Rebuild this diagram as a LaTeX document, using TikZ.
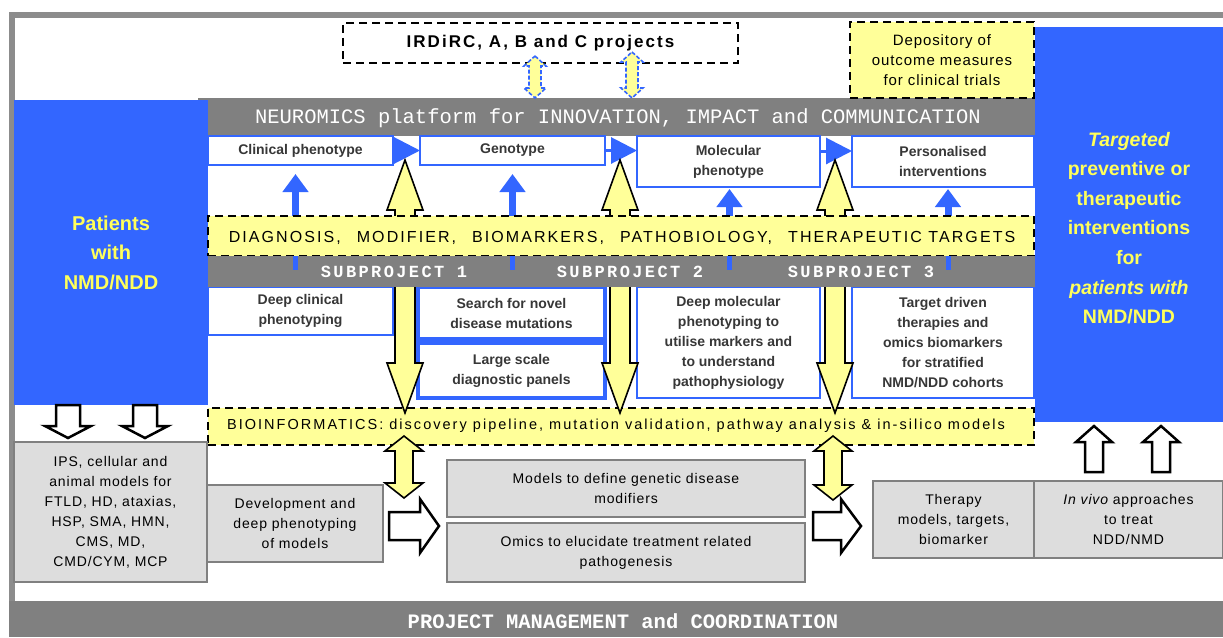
\documentclass[tikz,border=0pt]{standalone}
\usepackage{fontspec}
\setmainfont{Liberation Sans}
\setmonofont{Liberation Mono}
\newfontfamily\barfont{Liberation Mono}
\newfontfamily\spfont[LetterSpace=14]{Liberation Mono}
\newfontfamily\bandfont[LetterSpace=13]{Liberation Sans}
\newfontfamily\bioinfont[LetterSpace=14]{Liberation Sans}
\newfontfamily\lsfont[LetterSpace=6]{Liberation Sans}
\newfontfamily\topfont[LetterSpace=12]{Liberation Sans}
\usetikzlibrary{arrows.meta,calc}
\definecolor{nblue}{RGB}{51,102,255}
\definecolor{nyel}{RGB}{255,255,153}
\definecolor{ngray}{RGB}{128,128,128}
\definecolor{lgray}{RGB}{221,221,221}
\definecolor{tyel}{RGB}{255,255,90}
\definecolor{dtext}{RGB}{55,55,55}
% box by corners: name, style, x1, y1, x2, y2, text
\newcommand\bx[7]{\node[#2, anchor=north west, minimum width={(#5-#3)*1pt}, minimum height={(#6-#4)*1pt}] (#1) at (#3,#4) {#7};}
% vertical double arrow: cx, ytop, ybot, shaft, head width, head length, style
\newcommand\vdarrow[7]{\path[#7] (#1,#2) -- ({#1+#5/2},{#2+#6}) -- ({#1+#4/2},{#2+#6}) -- ({#1+#4/2},{#3-#6}) -- ({#1+#5/2},{#3-#6}) -- (#1,#3) -- ({#1-#5/2},{#3-#6}) -- ({#1-#4/2},{#3-#6}) -- ({#1-#4/2},{#2+#6}) -- ({#1-#5/2},{#2+#6}) -- cycle;}
% down arrow: cx, ytop, ytip
\newcommand\vdownarrow[7]{\path[#7] ({#1-#4/2},#2) -- ({#1+#4/2},#2) -- ({#1+#4/2},{#3-#6}) -- ({#1+#5/2},{#3-#6}) -- (#1,#3) -- ({#1-#5/2},{#3-#6}) -- ({#1-#4/2},{#3-#6}) -- cycle;}
% up arrow: cx, ytip, ybottom
\newcommand\vuparrow[7]{\path[#7] (#1,#2) -- ({#1+#5/2},{#2+#6}) -- ({#1+#4/2},{#2+#6}) -- ({#1+#4/2},#3) -- ({#1-#4/2},#3) -- ({#1-#4/2},{#2+#6}) -- ({#1-#5/2},{#2+#6}) -- cycle;}
% right arrow: cy, xleft, xtip, shaft, head width, head length, style
\newcommand\hrarrow[7]{\path[#7] (#2,{#1-#4/2}) -- ({#3-#6},{#1-#4/2}) -- ({#3-#6},{#1-#5/2}) -- (#3,#1) -- ({#3-#6},{#1+#5/2}) -- ({#3-#6},{#1+#4/2}) -- (#2,{#1+#4/2}) -- cycle;}
\tikzset{
  rowbox/.style={draw=nblue, line width=2.5pt, fill=white, inner sep=0pt, outer sep=0pt,
    font=\fontsize{14}{20}\selectfont\bfseries, text=dtext, align=center},
  graybox/.style={draw=gray, line width=1.5pt, fill=lgray, inner sep=0pt, outer sep=0pt,
    font=\lsfont\fontsize{14}{20}\selectfont, text=black, align=center},
  dashbox/.style={draw=black, line width=2.5pt, dash pattern=on 8pt off 5pt, inner sep=0pt, outer sep=0pt, align=center},
  graybar/.style={fill=ngray, draw=none, inner sep=0pt, outer sep=0pt, text=white},
  bluebox/.style={fill=nblue, draw=none, inner sep=0pt, outer sep=0pt, text=tyel, align=center,
    font=\fontsize{20}{29.5}\selectfont\bfseries},
  bigyel/.style={fill=nyel, draw=black, line width=1.6pt, line join=miter},
  smallyel/.style={fill=nyel, draw=nblue, line width=1.6pt, dash pattern=on 4pt off 2pt},
  hollow/.style={fill=white, draw=black, line width=2.5pt, line join=miter},
  bluearr/.style={draw=nblue, line width=7pt, -{Triangle[length=18pt,width=25pt]}},
  bluetri/.style={draw=nblue, line width=3pt, -{Triangle[length=26pt,width=26pt]}},
}
\begin{document}
\begin{tikzpicture}[x=1pt,y=-1pt]
\useasboundingbox (0,0) rectangle (1223,637);
\fill[white] (0,0) rectangle (1223,637);
% outer frame
\fill[gray!90] (10,12) rectangle (1223,18);
\fill[gray!90] (9,12) rectangle (15,602);
\bx{pm}{graybar}{9}{601}{1223}{637}{}
\node[text=white, font=\barfont\fontsize{20.5}{24}\selectfont\bfseries] (pmt) at (623,621) {PROJECT MANAGEMENT and COORDINATION};
% neuromics bar
\bx{neu}{graybar}{198}{98}{1035}{136}{}
\node[text=white, font=\barfont\fontsize{20.5}{24}\selectfont] (neut) at (618,118) {NEUROMICS platform for INNOVATION, IMPACT and COMMUNICATION};
% blue boxes
\bx{pat}{bluebox}{14}{100}{208}{405}{Patients\\with\\NMD/NDD}
\bx{tgt}{bluebox}{1035}{27}{1223}{422}{}
\node[text=tyel, align=center, font=\fontsize{19.5}{29.6}\selectfont\bfseries] (tgtt) at (1129,228)
  {\itshape Targeted\\preventive or\\therapeutic\\interventions\\for\\\itshape patients with\\NMD/NDD};
% top boxes
\bx{irc}{dashbox, fill=white, font=\topfont\fontsize{17}{20}\selectfont\bfseries}{343}{23}{738}{63}{IRDiRC, A, B and C projects}
\bx{dep}{dashbox, fill=nyel, font=\lsfont\fontsize{15}{20}\selectfont}{850}{22}{1034}{98}{Depository of\\outcome measures\\for clinical trials}
% row 1
\bx{clin}{rowbox}{208}{136}{393}{165}{Clinical phenotype}
\bx{geno}{rowbox}{420}{136}{605}{165}{Genotype}
\bx{molp}{rowbox}{637}{136}{820}{187}{Molecular\\phenotype}
\bx{pers}{rowbox}{852}{136}{1034}{187}{Personalised\\interventions}
% row 2
\bx{dcp}{rowbox}{208}{287}{393}{335}{Deep clinical\\phenotyping}
\bx{snm}{rowbox, line width=4pt}{418}{287}{605}{339}{Search for novel\\disease mutations}
\bx{lsd}{rowbox, line width=4pt}{418}{343}{605}{398}{Large scale\\diagnostic panels}
\bx{dmp}{rowbox}{637}{287}{820}{398}{Deep molecular\\phenotyping to\\utilise markers and\\to understand\\pathophysiology}
\bx{tdt}{rowbox}{852}{287}{1034}{398}{Target driven\\therapies and\\omics biomarkers\\for stratified\\NMD/NDD cohorts}
% bands
\bx{diag}{dashbox, fill=nyel}{208}{216}{1034}{256}{}
\bx{bio}{dashbox, fill=nyel}{208}{408}{1034}{445}{}
\node[font=\bioinfont\fontsize{14.5}{18}\selectfont] (biot) at (616,426) {BIOINFORMATICS: discovery pipeline, mutation validation, pathway analysis \& in-silico models};
% blue up arrows
\draw[bluearr, shorten >=9pt] (clin.south |- diag.north) ++(-5,0) coordinate (a1) -- (a1 |- clin.south);
\draw[bluearr, shorten >=9pt] (geno.south |- diag.north) ++(0,0) coordinate (a2) -- (a2 |- geno.south);
\draw[bluearr, shorten >=2pt] (molp.south |- diag.north) ++(1,0) coordinate (a3) -- (a3 |- molp.south);
\draw[bluearr, shorten >=2pt] (pers.south |- diag.north) ++(5,0) coordinate (a4) -- (a4 |- pers.south);
% blue triangles between row-1 boxes
\draw[bluetri] (clin.east) -- (geno.west);
\draw[bluetri] (geno.east) -- (geno.east -| molp.west);
\draw[bluetri] ($(molp.north east)+(0,15)$) coordinate (b3) -- (b3 -| pers.west);
% long yellow arrows
\vdarrow{405}{160}{413}{20}{36}{50}{bigyel}
\vdarrow{620}{160}{413}{20}{36}{50}{bigyel}
\vdarrow{835}{160}{413}{20}{36}{50}{bigyel}
% bands on top of arrows
\bx{diag2}{dashbox, fill=nyel}{208}{216}{1034}{256}{}
\node[font=\bandfont\fontsize{16}{20}\selectfont] (diagt) at (622,238) {DIAGNOSIS,\quad MODIFIER,\quad BIOMARKERS,\quad PATHOBIOLOGY,\quad THERAPEUTIC TARGETS};
\bx{sub}{graybar}{208}{256}{1035}{287}{}
\node[text=white, font=\spfont\fontsize{17}{20}\selectfont\bfseries] (sp1) at (394,272) {SUBPROJECT 1};
\node[text=white, font=\spfont\fontsize{17}{20}\selectfont\bfseries] (sp2) at (630,272) {SUBPROJECT 2};
\node[text=white, font=\spfont\fontsize{17}{20}\selectfont\bfseries] (sp3) at (861,272) {SUBPROJECT 3};
\foreach \c in {a1,a2,a3,a4}{\draw[nblue, line width=5pt] (\c |- sub.north) -- ++(0,14);}
% short yellow arrows below bioinformatics
\vdarrow{404}{436}{498}{18}{38}{15}{bigyel}
\vdarrow{833}{436}{500}{18}{38}{15}{bigyel}
% bottom boxes
\bx{ips}{graybox}{14}{442}{207}{582}{IPS, cellular and\\animal models for\\FTLD, HD, ataxias,\\HSP, SMA, HMN,\\CMS, MD,\\CMD/CYM, MCP}
\bx{dev}{graybox}{207}{485}{383}{562}{Development and\\deep phenotyping\\of models}
\bx{mod}{graybox}{447}{460}{805}{517}{Models to define genetic disease\\modifiers}
\bx{omi}{graybox}{447}{523}{805}{582}{Omics to elucidate treatment related\\pathogenesis}
\bx{the}{graybox}{873}{481}{1034}{558}{Therapy\\models, targets,\\biomarker}
\bx{inv}{graybox}{1034}{481}{1223}{558}{\itshape In vivo \upshape approaches\\to treat\\NDD/NMD}
% hollow arrows
\vdownarrow{68}{405}{438}{24}{46}{12}{hollow}
\vdownarrow{145}{405}{438}{24}{46}{12}{hollow}
\vuparrow{1094}{426}{472}{18}{36}{16}{hollow}
\vuparrow{1161}{426}{472}{18}{36}{16}{hollow}
\hrarrow{526}{389}{439}{28}{54}{19}{hollow}
\hrarrow{526}{813}{861}{28}{54}{20}{hollow}
% small dashed arrows at top
\vdarrow{535}{56}{98}{12}{22}{10}{smallyel}
\vdarrow{632}{52}{98}{12}{22}{10}{smallyel}
\end{tikzpicture}
\end{document}
